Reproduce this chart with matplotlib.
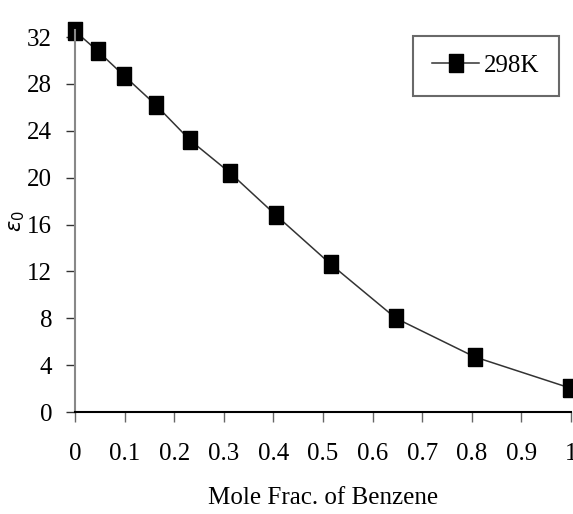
import numpy as np
import matplotlib.pyplot as plt

plt.rcParams['font.family'] = ['Liberation Serif', 'DejaVu Serif']

# data
mole_frac = [0.0, 0.046, 0.099, 0.163, 0.232, 0.313, 0.405, 0.516, 0.647, 0.806, 0.998]
eps0 = [32.5, 30.8, 28.7, 26.2, 23.2, 20.4, 16.8, 12.6, 8.0, 4.7, 2.05]
series_label = "298K"
x_ticks = [0, 0.1, 0.2, 0.3, 0.4, 0.5, 0.6, 0.7, 0.8, 0.9, 1]
x_ticklabels = ["0", "0.1", "0.2", "0.3", "0.4", "0.5", "0.6", "0.7", "0.8", "0.9", "1"]
y_ticks = [0, 4, 8, 12, 16, 20, 24, 28, 32]

fig = plt.figure(figsize=(5.73, 5.14), dpi=100)
ax = fig.add_axes([0.1309, 0.1984, 0.8656, 0.7432])

# tall, narrow square marker like the (squeezed) original
box = [(-0.36, -0.5), (0.36, -0.5), (0.36, 0.5), (-0.36, 0.5), (-0.36, -0.5)]
ax.plot(mole_frac, eps0, color='#333333', lw=1.1, marker=box, markersize=13.5,
        markerfacecolor='black', markeredgecolor='black', clip_on=False, label=series_label)

ax.set_xlim(0, 1)
ax.set_ylim(0, 32.6)
ax.set_xticks(x_ticks)
ax.set_xticklabels(x_ticklabels)
ax.set_yticks(y_ticks)

for s in ['top', 'right']:
    ax.spines[s].set_visible(False)
ax.spines['left'].set_color('#888888')
ax.spines['left'].set_linewidth(1.5)
ax.spines['bottom'].set_color('black')
ax.spines['bottom'].set_linewidth(1.5)

ax.tick_params(axis='y', length=6.5, width=1, color='#333333', labelsize=18, pad=10)
ax.tick_params(axis='x', length=7, width=1, color='#666666', labelsize=18, pad=15)

ax.set_xlabel("Mole Frac. of Benzene", fontsize=18, labelpad=16)
ax.set_ylabel(r"$\varepsilon_0$", fontsize=15, labelpad=0)

leg = ax.legend(loc='upper right', bbox_to_anchor=(0.975, 0.985), fontsize=18, frameon=True,
                fancybox=False, edgecolor='#444444', handlelength=1.9, handletextpad=0.2,
                borderpad=0.75, borderaxespad=0, markerscale=1.0)
leg.get_frame().set_linewidth(1.5)

fig.savefig("out.png", dpi=100)
